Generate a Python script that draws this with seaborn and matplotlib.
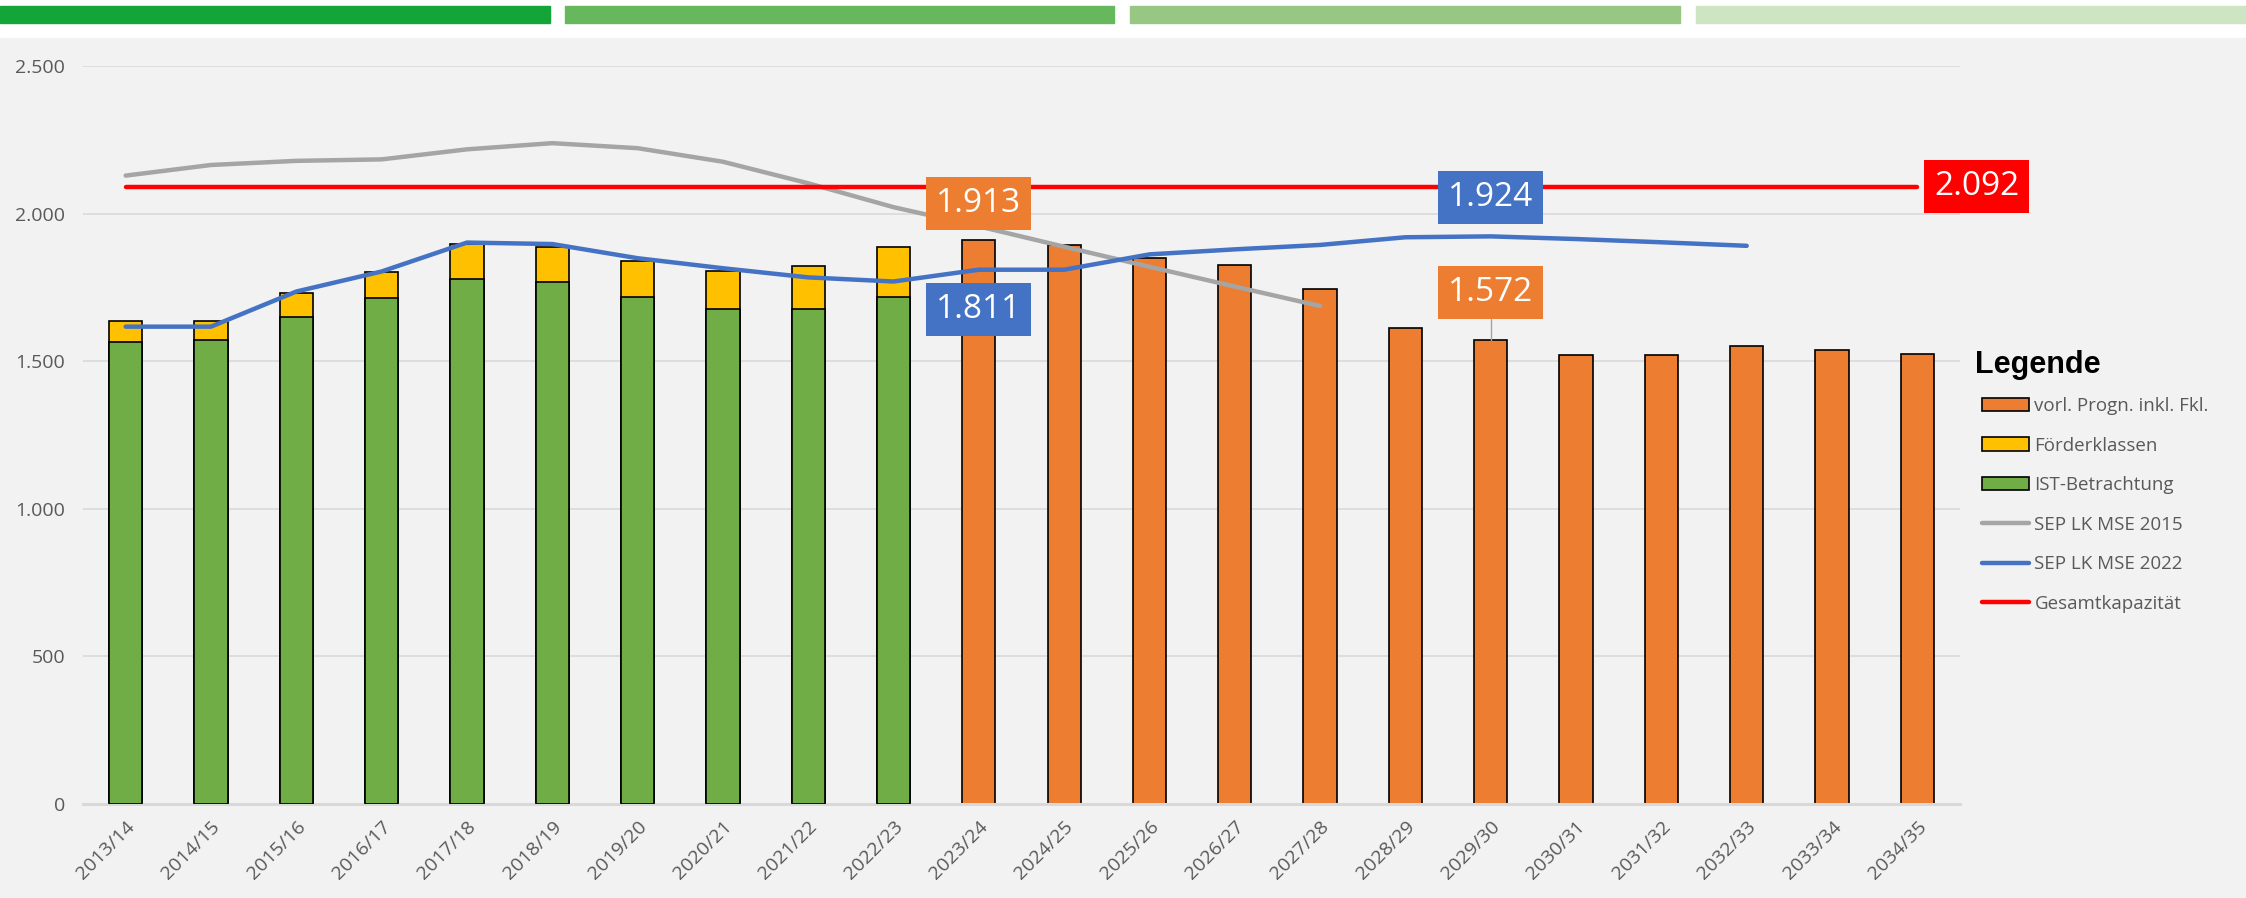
import matplotlib
matplotlib.use("Agg")
import matplotlib.pyplot as plt
from matplotlib.patches import Patch, Rectangle
from matplotlib.lines import Line2D
from matplotlib.ticker import FuncFormatter
import numpy as np
import pandas as pd
import seaborn as sns

# Schuljahre
years = ["2013/14", "2014/15", "2015/16", "2016/17", "2017/18", "2018/19",
         "2019/20", "2020/21", "2021/22", "2022/23", "2023/24", "2024/25",
         "2025/26", "2026/27", "2027/28", "2028/29", "2029/30", "2030/31",
         "2031/32", "2032/33", "2033/34", "2034/35"]

# IST-Betrachtung + Foerderklassen (2013/14 - 2022/23)
ist = [1567, 1573, 1652, 1715, 1779, 1768, 1720, 1677, 1679, 1720]
foerder = [70, 64, 79, 88, 118, 121, 122, 130, 145, 169]

# vorl. Prognose inkl. Fkl. (2023/24 - 2034/35)
prognose = [1913, 1894, 1850, 1828, 1746, 1615, 1572, 1523, 1522, 1552, 1539, 1526]

# Schulentwicklungsplaene
sep2015 = [2130, 2166, 2180, 2185, 2219, 2240, 2223, 2177, 2104, 2023,
           1958, 1889, 1821, 1754, 1688]
sep2022 = [1618, 1618, 1737, 1805, 1903, 1898, 1850, 1816, 1785, 1771,
           1811, 1811, 1863, 1880, 1895, 1921, 1924, 1915, 1904, 1892]
kapazitaet = 2092

ORANGE = "#ED7D31"
YELLOW = "#FFC000"
GREEN = "#70AD47"
GREY = "#A5A5A5"
BLUE = "#4472C4"
RED = "#FF0000"
BG = "#F1F2F1"
TXT = "#595959"

sns.set_theme(style="white")
plt.rcParams["font.family"] = ["Open Sans", "DejaVu Sans"]

fig = plt.figure(figsize=(22.46, 8.98), dpi=100)
fig.patch.set_facecolor("white")
fig.patches.append(Rectangle((0, 0), 1, 0.9577, transform=fig.transFigure,
                             color=BG, zorder=-10))
# farbige Streifen oben
for x0, x1, c in [(0, 550, "#13A538"), (565, 1114, "#67B75D"),
                  (1130, 1680, "#98C784"), (1696, 2246, "#CEE5C4")]:
    fig.patches.append(Rectangle((x0 / 2246, 0.9747), (x1 - x0) / 2246, 0.0186,
                                 transform=fig.transFigure, color=c, zorder=-5))

ax = fig.add_axes([0.03696, 0.1047, 0.8357, 0.8213])
ax.set_facecolor(BG)

n_ist = len(ist)
totals = [a + b for a, b in zip(ist, foerder)] + prognose
kinds = ["IST"] * n_ist + ["Prognose"] * len(prognose)
df = pd.DataFrame({"Jahr": years, "Wert": totals, "Art": kinds})

sns.barplot(data=df, x="Jahr", y="Wert", hue="Art", order=years,
            palette={"IST": YELLOW, "Prognose": ORANGE}, dodge=False,
            saturation=1, width=0.39, edgecolor="black", linewidth=1.2,
            errorbar=None, legend=False, ax=ax, zorder=2)
sns.barplot(x=years[:n_ist], y=ist, order=years, color=GREEN, saturation=1,
            width=0.39, edgecolor="black", linewidth=1.2, errorbar=None,
            ax=ax, zorder=3)

pos = np.arange(len(years))
sns.lineplot(x=pos[:len(sep2015)], y=sep2015, color=GREY, lw=3.2, ax=ax,
             solid_capstyle="round", zorder=4)
sns.lineplot(x=pos[:len(sep2022)], y=sep2022, color=BLUE, lw=3.2, ax=ax,
             solid_capstyle="round", zorder=5)
sns.lineplot(x=pos, y=[kapazitaet] * len(years), color=RED, lw=3.2, ax=ax,
             solid_capstyle="round", zorder=6)

ax.set_xlim(-0.5, len(years) - 0.5)
ax.set_ylim(0, 2500)
ax.set_yticks(range(0, 2501, 500))
ax.yaxis.set_major_formatter(FuncFormatter(lambda v, _: f"{int(v):,}".replace(",", ".")))
ax.yaxis.grid(True, color="#D9D9D9", lw=1.2)
ax.set_axisbelow(True)
for s in ["top", "right", "left"]:
    ax.spines[s].set_visible(False)
ax.spines["bottom"].set_color("#D9D9D9")
ax.spines["bottom"].set_linewidth(2.2)
ax.tick_params(axis="y", length=0, pad=13, labelsize=14, labelcolor=TXT)
ax.tick_params(axis="x", length=0, pad=10, labelsize=14, labelcolor=TXT)
plt.setp(ax.get_xticklabels(), rotation=45, ha="right", rotation_mode="anchor")
ax.set_xlabel("")
ax.set_ylabel("")


def fmt(v):
    return f"{v:,}".replace(",", ".")


def box(x, y, v, color):
    ax.text(x, y, fmt(v), color="white", fontsize=24, ha="center", va="center",
            zorder=10, bbox=dict(boxstyle="square,pad=0.3", fc=color, ec="none"))


i23 = years.index("2023/24")
i29 = years.index("2029/30")
box(i23, prognose[0] + 124, prognose[0], ORANGE)
box(i23, sep2022[i23] - 136, sep2022[i23], BLUE)
box(i29, sep2022[i29] + 133, sep2022[i29], BLUE)
box(i29, prognose[i29 - n_ist] + 163, prognose[i29 - n_ist], ORANGE)
ax.plot([i29, i29], [prognose[i29 - n_ist], prognose[i29 - n_ist] + 73],
        color=GREY, lw=1, zorder=3.5)
ax.annotate(fmt(kapazitaet), xy=(pos[-1], kapazitaet), xytext=(12, 0),
            textcoords="offset points", color="white", fontsize=24,
            ha="left", va="center", zorder=10, annotation_clip=False,
            bbox=dict(boxstyle="square,pad=0.3", fc=RED, ec="none"))

handles = [Patch(fc=ORANGE, ec="black", lw=1.2),
           Patch(fc=YELLOW, ec="black", lw=1.2),
           Patch(fc=GREEN, ec="black", lw=1.2),
           Line2D([], [], color=GREY, lw=3.2, solid_capstyle="round"),
           Line2D([], [], color=BLUE, lw=3.2, solid_capstyle="round"),
           Line2D([], [], color=RED, lw=3.2, solid_capstyle="round")]
labels = ["vorl. Progn. inkl. Fkl.", "Förderklassen", "IST-Betrachtung",
          "SEP LK MSE 2015", "SEP LK MSE 2022", "Gesamtkapazität"]
fig.text(1975 / 2246, (898 - 373) / 898, "Legende", fontsize=22,
         fontweight="bold", color="black", ha="left", va="baseline",
         family=["Liberation Sans", "DejaVu Sans"])
fig.legend(handles, labels, loc="upper left", bbox_to_anchor=(1982 / 2246, (898 - 397) / 898),
           frameon=False, fontsize=13.5, labelcolor=TXT, handlelength=2.5,
           handleheight=0.75, handletextpad=0.3, labelspacing=1.15,
           borderpad=0, borderaxespad=0)

fig.savefig("out.png", dpi=100, facecolor=fig.get_facecolor())
